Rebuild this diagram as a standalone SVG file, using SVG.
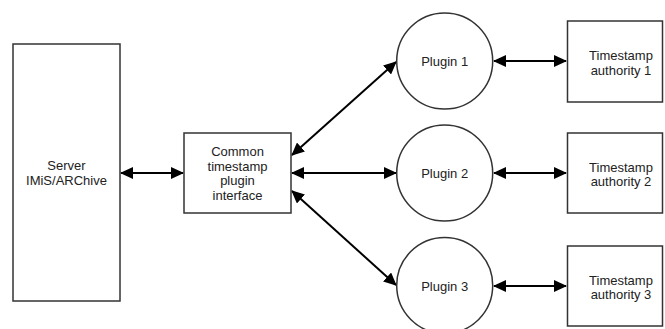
<svg xmlns="http://www.w3.org/2000/svg" width="665" height="329" viewBox="0 0 665 329">
<style>
.box{fill:#fff;stroke:#333;stroke-width:1.5}
.lbl{font-family:"Liberation Sans",Arial,sans-serif;font-size:13px;fill:#222;text-anchor:middle}
.con{stroke:#000;stroke-width:2;fill:none;marker-start:url(#ah);marker-end:url(#ah)}
</style>
<defs>
<marker id="ah" markerUnits="userSpaceOnUse" markerWidth="13" markerHeight="12" refX="12" refY="6" orient="auto-start-reverse" viewBox="0 0 13 12">
<path d="M0,0 L13,6 L0,12 z" fill="#000"/>
</marker>
</defs>
<rect width="665" height="329" fill="#fff"/>
<g id="connectors">
<line class="con" x1="121" y1="173" x2="183" y2="173"/>
<line class="con" x1="292" y1="155" x2="396" y2="62"/>
<line class="con" x1="292" y1="173" x2="396" y2="173"/>
<line class="con" x1="292" y1="191" x2="396" y2="285"/>
<line class="con" x1="494" y1="61" x2="566" y2="61"/>
<line class="con" x1="494" y1="173" x2="566" y2="173"/>
<line class="con" x1="494" y1="286" x2="566" y2="286"/>
</g>
<g id="server">
<rect class="box" x="13" y="44" width="107" height="257"/>
<text class="lbl" x="66.5" y="169.5">Server</text>
<text class="lbl" x="66.5" y="184.5">IMiS/ARChive</text>
</g>
<g id="common">
<rect class="box" x="184" y="133" width="107" height="80"/>
<text class="lbl" x="237.5" y="156">Common</text>
<text class="lbl" x="237.5" y="170.5">timestamp</text>
<text class="lbl" x="237.5" y="185">plugin</text>
<text class="lbl" x="237.5" y="199.5">interface</text>
</g>
<g id="plugin1">
<circle class="box" cx="444.7" cy="61" r="48"/>
<text class="lbl" x="444.7" y="66">Plugin 1</text>
</g>
<g id="plugin2">
<circle class="box" cx="444.7" cy="173" r="48"/>
<text class="lbl" x="444.7" y="178">Plugin 2</text>
</g>
<g id="plugin3">
<circle class="box" cx="444.7" cy="285.5" r="48"/>
<text class="lbl" x="444.7" y="290.5">Plugin 3</text>
</g>
<g id="authority1">
<rect class="box" x="567.5" y="21" width="95" height="81"/>
<text class="lbl" x="621" y="60">Timestamp</text>
<text class="lbl" x="621" y="74.5">authority 1</text>
</g>
<g id="authority2">
<rect class="box" x="567.5" y="133" width="95" height="80"/>
<text class="lbl" x="621" y="171.5">Timestamp</text>
<text class="lbl" x="621" y="186">authority 2</text>
</g>
<g id="authority3">
<rect class="box" x="567.5" y="246" width="95" height="80"/>
<text class="lbl" x="621" y="284.5">Timestamp</text>
<text class="lbl" x="621" y="299">authority 3</text>
</g>
</svg>
